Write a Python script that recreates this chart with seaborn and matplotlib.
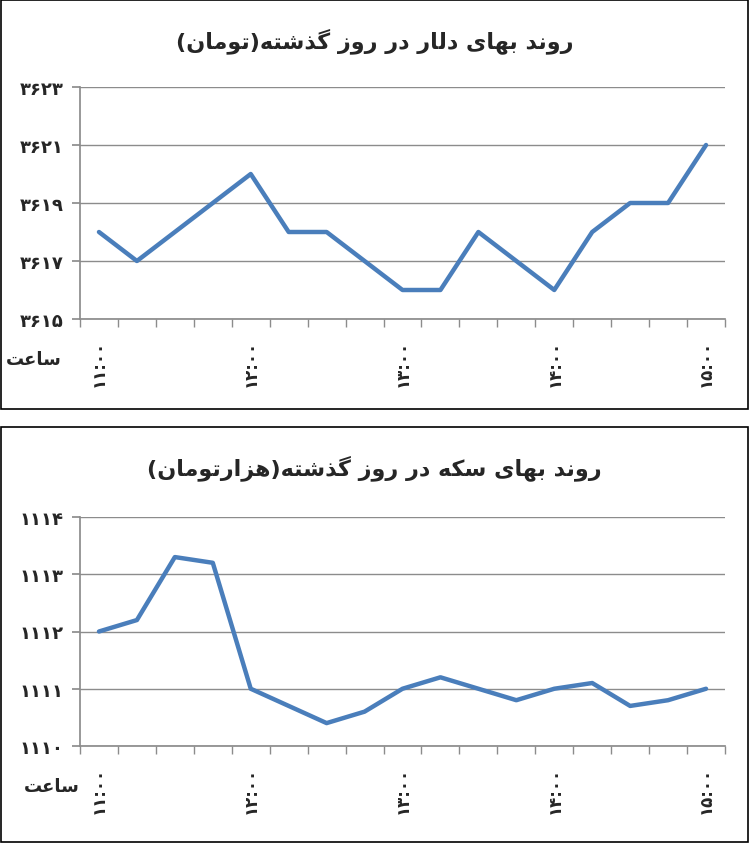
import numpy as np
import pandas as pd
import matplotlib
matplotlib.use("Agg")
import matplotlib.pyplot as plt
from matplotlib.patches import Rectangle
import seaborn as sns

# data (15-minute steps, 11:00 to 15:00)
dollar = [3618, 3617, 3618, 3619, 3620, 3618, 3618, 3617, 3616, 3616,
          3618, 3617, 3616, 3618, 3619, 3619, 3621]
coin = [1112, 1112.2, 1113.3, 1113.2, 1111, 1110.7, 1110.4, 1110.6, 1111,
        1111.2, 1111, 1110.8, 1111, 1111.1, 1110.7, 1110.8, 1111]
hour_labels = ["۱۱:۰۰", "۱۲:۰۰", "۱۳:۰۰", "۱۴:۰۰", "۱۵:۰۰"]
title_dollar = "روند بهای دلار در روز گذشته(تومان)"
title_coin = "روند بهای سکه در روز گذشته(هزارتومان)"
hour_word = "ساعت"

# small Persian shaper: matplotlib has no shaping / bidi
FORMS = {
    "ا": (0xFE8D, 0xFE8E, None, None), "ب": (0xFE8F, 0xFE90, 0xFE91, 0xFE92),
    "ت": (0xFE95, 0xFE96, 0xFE97, 0xFE98), "د": (0xFEA9, 0xFEAA, None, None),
    "ذ": (0xFEAB, 0xFEAC, None, None), "ر": (0xFEAD, 0xFEAE, None, None),
    "ز": (0xFEAF, 0xFEB0, None, None), "س": (0xFEB1, 0xFEB2, 0xFEB3, 0xFEB4),
    "ش": (0xFEB5, 0xFEB6, 0xFEB7, 0xFEB8), "ع": (0xFEC9, 0xFECA, 0xFECB, 0xFECC),
    "ل": (0xFEDD, 0xFEDE, 0xFEDF, 0xFEE0), "م": (0xFEE1, 0xFEE2, 0xFEE3, 0xFEE4),
    "ن": (0xFEE5, 0xFEE6, 0xFEE7, 0xFEE8), "ه": (0xFEE9, 0xFEEA, 0xFEEB, 0xFEEC),
    "و": (0xFEED, 0xFEEE, None, None), "ی": (0xFBFC, 0xFBFD, 0xFBFE, 0xFBFF),
    "ک": (0xFB8E, 0xFB8F, 0xFB90, 0xFB91), "گ": (0xFB92, 0xFB93, 0xFB94, 0xFB95),
}


def shape(s):
    out = []
    for i, c in enumerate(s):
        if c not in FORMS:
            out.append(c)
            continue
        prev = s[i - 1] if i > 0 else ""
        nxt = s[i + 1] if i + 1 < len(s) else ""
        join_prev = prev in FORMS and FORMS[prev][2] is not None
        join_next = nxt in FORMS and FORMS[c][2] is not None
        iso, fin, ini, med = FORMS[c]
        if join_prev and join_next:
            code = med
        elif join_prev:
            code = fin
        elif join_next:
            code = ini
        else:
            code = iso
        out.append(chr(code))
    swap = {"(": ")", ")": "("}
    return "".join(swap.get(ch, ch) for ch in reversed(out))


sns.set_theme(style="white")
plt.rcParams["font.family"] = ["DejaVu Sans"]

fig = plt.figure(figsize=(7.5, 8.45), dpi=100)
W, H = 750, 845


def panel(box, axbox, values, yticks, title, word_x):
    x0, y0, x1, y1 = box
    fig.patches.append(Rectangle((x0 / W, 1 - y1 / H), (x1 - x0) / W, (y1 - y0) / H,
                                 transform=fig.transFigure, fill=False,
                                 edgecolor="black", lw=1.2))
    ax0, ay0, ax1, ay1 = axbox
    ax = fig.add_axes([ax0 / W, 1 - ay1 / H, (ax1 - ax0) / W, (ay1 - ay0) / H])
    df = pd.DataFrame({"i": np.arange(len(values)), "v": values})
    sns.lineplot(data=df, x="i", y="v", ax=ax, color="#4a7ebb", lw=3.2)
    ax.set_xlim(-0.5, len(values) - 0.5)
    ax.set_ylim(yticks[0], yticks[-1])
    ax.set_yticks(yticks)
    ax.set_yticklabels([str(t).translate(str.maketrans("0123456789", "۰۱۲۳۴۵۶۷۸۹"))
                        for t in yticks], fontsize=13, fontweight="bold")
    ax.yaxis.grid(True, color="#8c8c8c", lw=1)
    ax.set_xticks(np.arange(0, len(values), 4))
    ax.set_xticklabels(hour_labels, rotation=90, fontsize=12, fontweight="bold")
    ax.set_xticks(np.arange(-0.5, len(values)), minor=True)
    ax.tick_params(axis="x", which="major", length=0, pad=14)
    ax.tick_params(axis="x", which="minor", length=6, color="#8c8c8c", direction="out")
    ax.tick_params(axis="y", length=6, color="#8c8c8c", direction="out", pad=6)
    ax.xaxis.set_tick_params(which="minor", bottom=True)
    ax.yaxis.set_tick_params(left=True)
    for s in ["top", "right"]:
        ax.spines[s].set_visible(False)
    for s in ["left", "bottom"]:
        ax.spines[s].set_color("#8c8c8c")
    ax.set_xlabel("")
    ax.set_ylabel("")
    fig.text((x0 + x1) / 2 / W, 1 - (y0 + 40) / H, shape(title), ha="center",
             va="center", fontsize=16, fontweight="bold")
    fig.text(word_x / W, 1 - (ay1 + 40) / H, shape(hour_word), ha="left", va="center",
             fontsize=13, fontweight="bold")
    return ax


panel((1, 1, 748, 410), (80, 88, 725, 320), dollar, [3615, 3617, 3619, 3621, 3623],
      title_dollar, 6)
panel((1, 428, 748, 843), (80, 518, 725, 747), coin, [1110, 1111, 1112, 1113, 1114],
      title_coin, 24)

fig.savefig("out.png", dpi=100, facecolor="white")
